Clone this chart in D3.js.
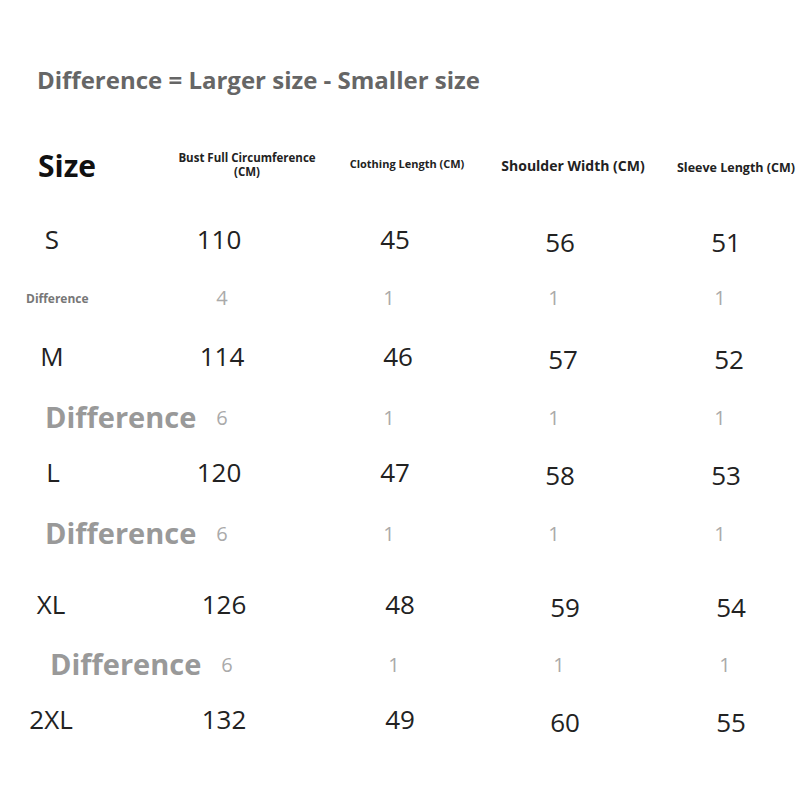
<!DOCTYPE html>
<html><head><meta charset="utf-8">
<script src="https://cdn.jsdelivr.net/npm/d3@7"></script>
<style>body{margin:0;background:#fff}</style></head>
<body><svg id="c" width="800" height="800"></svg>
<script>
const sizes=["S","M","L","XL","2XL"];
const headers=["Bust Full Circumference\n(CM)","Clothing Length (CM)","Shoulder Width (CM)","Sleeve Length (CM)"];
const bust=[110,114,120,126,132];
const clothing=[45,46,47,48,49];
const shoulder=[56,57,58,59,60];
const sleeve=[51,52,53,54,55];
const diffs=[[4,1,1,1],[6,1,1,1],[6,1,1,1],[6,1,1,1]];

const svg=d3.select("#c");
const F="'Open Sans', 'Noto Sans', sans-serif";
const x=d3.scaleOrdinal().domain([0,1,2,3]).range([219,395,560,726]);
const sizeY=[240,357,473,605,720];
const diffY=[298,418,534,665];
const rowShift=[0,3,0,5,5];
const diffShift=[0,0,0,5];

svg.append("text").attr("x",37).attr("y",89).attr("font-family",F).attr("font-weight","bold")
 .attr("font-size",24).attr("fill","#666").text("Difference = Larger size - Smaller size");
svg.append("text").attr("x",38).attr("y",177).attr("font-family",F).attr("font-weight","bold")
 .attr("font-size",30).attr("fill","#111").text("Size");
const hdrSize=[11.5,11,14,12.5], hdrX=[247,407,573,736], hdrY=[162,168,171,172];
headers.forEach((h,i)=>{
  const t=svg.append("text").attr("text-anchor","middle").attr("font-family",F).attr("font-weight","bold")
   .attr("font-size",hdrSize[i]).attr("fill","#222");
  h.split("\n").forEach((l,j)=>t.append("tspan").attr("x",hdrX[i]).attr("y",hdrY[i]+j*14).text(l));
});
const cols=[bust,clothing,shoulder,sleeve];
const sizeX=[52,52,53,51,51];
sizes.forEach((s,r)=>{
  svg.append("text").attr("x",sizeX[r]).attr("y",sizeY[r]+9).attr("text-anchor","middle").attr("font-family",F)
   .attr("font-size",26).attr("fill","#222").text(s);
  cols.forEach((c,i)=>{
    svg.append("text").attr("x",x(i)+rowShift[r]).attr("y",sizeY[r]+9+(i>=2?3:0)).attr("text-anchor","middle")
     .attr("font-family",F).attr("font-size",26).attr("fill","#222").text(c[r]);
  });
});
diffs.forEach((d,r)=>{
  const small=r===0;
  svg.append("text").attr("x",small?26:(r===3?50:45)).attr("y",diffY[r]+(small?5:10))
   .attr("font-family",F).attr("font-weight","bold").attr("font-size",small?12:29).attr("fill",small?"#777":"#999")
   .text("Difference");
  d.forEach((v,i)=>{
    svg.append("text").attr("x",(i===0?x(0)+3:x(i)-6)+diffShift[r]).attr("y",diffY[r]+7).attr("text-anchor","middle")
     .attr("font-family",F).attr("font-size",20).attr("fill","#aaa").text(v);
  });
});
</script></body></html>
